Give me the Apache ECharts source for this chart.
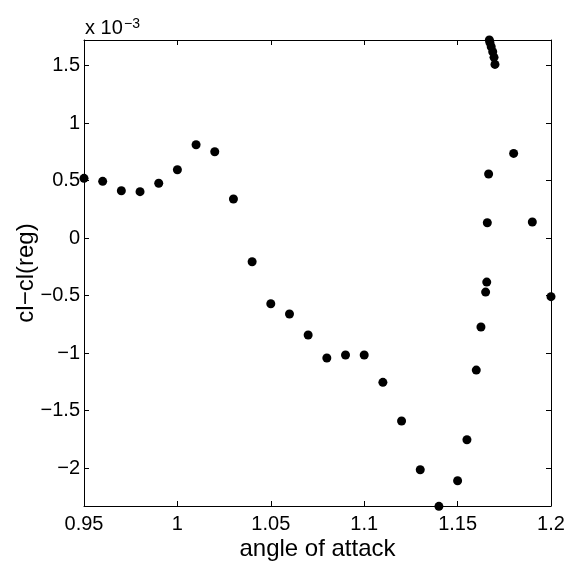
<!DOCTYPE html>
<html>
<head>
<meta charset="utf-8">
<script src="https://cdn.jsdelivr.net/npm/echarts@6/dist/echarts.min.js"></script>
<style>
html, body { margin: 0; padding: 0; background: #fff; }
#main { width: 568px; height: 565px; }
</style>
</head>
<body>
<div id="main"></div>
<script>
var myChart = echarts.init(document.getElementById('main'));

// angle of attack and cl - cl(reg), values in units of 1e-3
var aoa = [0.95, 0.96, 0.97, 0.98, 0.99, 1.00, 1.01, 1.02, 1.03, 1.04,
    1.05, 1.06, 1.07, 1.08, 1.09, 1.10, 1.11, 1.12, 1.13, 1.14,
    1.15, 1.155, 1.160, 1.1625, 1.165, 1.1656, 1.1659, 1.1666,
    1.167, 1.1673, 1.168, 1.1688, 1.1695, 1.170, 1.180, 1.19, 1.20];
var dcl = [0.519, 0.493, 0.411, 0.403, 0.476, 0.594, 0.811, 0.750, 0.339, -0.206,
    -0.571, -0.661, -0.843, -1.043, -1.017, -1.017, -1.255, -1.591, -2.015, -2.333,
    -2.110, -1.754, -1.148, -0.774, -0.470, -0.383, 0.133, 0.557,
    1.722, 1.700, 1.663, 1.620, 1.571, 1.510, 0.736, 0.139, -0.510];

var xTicks = [0.95, 1, 1.05, 1.1, 1.15, 1.2];
var yTicks = [-2, -1.5, -1, -0.5, 0, 0.5, 1, 1.5];

var pts = aoa.map(function (a, i) { return [a, dcl[i]]; });
var font = 'Liberation Sans, Arial, Helvetica, sans-serif';

function fmt(v) {
    return String(Math.round(v * 1000) / 1000).replace('-', '\u2212');
}

function axisCommon(ticks) {
    return {
        type: 'value',
        splitLine: { show: false },
        axisLine: { show: true, onZero: false, lineStyle: { color: '#000', width: 1 } },
        axisTick: { show: true, inside: true, length: 5, customValues: ticks,
            lineStyle: { color: '#000', width: 1 } }
    };
}

var xBottom = axisCommon(xTicks);
xBottom.position = 'bottom';
xBottom.min = 0.95; xBottom.max = 1.2;
xBottom.name = 'angle of attack';
xBottom.nameLocation = 'middle';
xBottom.nameGap = 31;
xBottom.nameMoveOverlap = false;
xBottom.nameTextStyle = { fontFamily: font, fontSize: 24, color: '#000' };
xBottom.axisLabel = { customValues: xTicks, formatter: fmt, margin: 8,
    fontFamily: font, fontSize: 20, color: '#000' };

var xTop = axisCommon(xTicks);
xTop.position = 'top';
xTop.min = 0.95; xTop.max = 1.2;
xTop.axisLabel = { show: false };

var yLeft = axisCommon(yTicks);
yLeft.position = 'left';
yLeft.min = -2.33; yLeft.max = 1.722;
yLeft.name = 'cl\u2212cl(reg)';
yLeft.nameLocation = 'middle';
yLeft.nameGap = 46;
yLeft.nameMoveOverlap = false;
yLeft.nameTextStyle = { fontFamily: font, fontSize: 24, color: '#000' };
yLeft.axisLabel = { customValues: yTicks, formatter: fmt, margin: 4,
    fontFamily: font, fontSize: 20, color: '#000' };

var yRight = axisCommon(yTicks);
yRight.position = 'right';
yRight.min = -2.33; yRight.max = 1.722;
yRight.axisLabel = { show: false };

myChart.setOption({
    backgroundColor: '#fff',
    animation: false,
    grid: { left: 84, right: 17, top: 40, bottom: 59, containLabel: false, outerBoundsMode: 'none' },
    xAxis: [xBottom, xTop],
    yAxis: [yLeft, yRight],
    graphic: [{
        type: 'text', x: 85, y: 38,
        style: { text: 'x 10', fontFamily: font, fontSize: 20, fill: '#000', verticalAlign: 'bottom' }
    }, {
        type: 'text', x: 124, y: 31,
        style: { text: '\u22123', fontFamily: font, fontSize: 14, fill: '#000', verticalAlign: 'bottom' }
    }],
    series: [{
        type: 'scatter',
        xAxisIndex: 0,
        yAxisIndex: 0,
        data: pts,
        symbol: 'circle',
        symbolSize: 9,
        clip: false,
        itemStyle: { color: '#000', opacity: 1 }
    }]
});
</script>
</body>
</html>
